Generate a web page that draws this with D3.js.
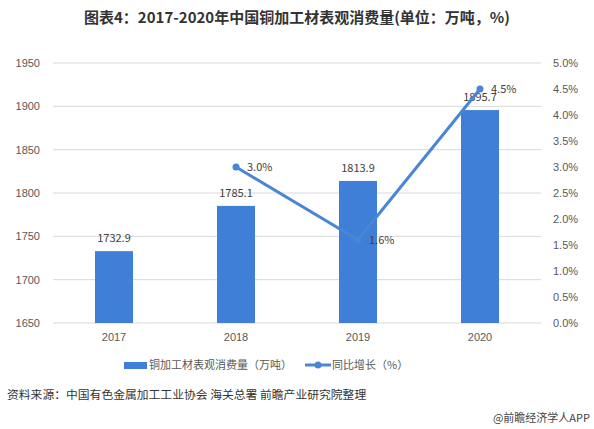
<!DOCTYPE html>
<html>
<head>
<meta charset="utf-8">
<script src="https://cdn.jsdelivr.net/npm/d3@7"></script>
<style>
  body { margin: 0; background: #fff; }
  svg { font-family: "Microsoft YaHei", "Noto Sans CJK SC", sans-serif; }
</style>
</head>
<body>
<svg id="chart" width="594" height="429"></svg>
<script>
// Data
const years = ["2017", "2018", "2019", "2020"];
const consumption = [1732.9, 1785.1, 1813.9, 1895.7];
const growth = [null, 3.0, 1.6, 4.5];
const leftTicks = [1650, 1700, 1750, 1800, 1850, 1900, 1950];
const rightTicks = [0, 0.5, 1, 1.5, 2, 2.5, 3, 3.5, 4, 4.5, 5];

const width = 594, height = 429;
const margin = { top: 63, right: 53, bottom: 106, left: 53 };
const barColor = "#3f7fd8";
const lineColor = "#4a86d6";

const svg = d3.select("#chart");

// Title
svg.append("text")
    .attr("x", width / 2)
    .attr("y", 23)
    .attr("text-anchor", "middle")
    .attr("font-size", 15)
    .attr("font-weight", "bold")
    .attr("fill", "#333")
    .text("图表4：2017-2020年中国铜加工材表观消费量(单位：万吨，%)");

// Scales
const x = d3.scaleBand()
    .domain(years)
    .range([margin.left, width - margin.right]);

const y = d3.scaleLinear()
    .domain([1650, 1950])
    .range([height - margin.bottom, margin.top]);

const y2 = d3.scaleLinear()
    .domain([0, 5])
    .range([height - margin.bottom, margin.top]);

// Grid lines
svg.append("g")
    .selectAll("line")
    .data(leftTicks)
    .join("line")
    .attr("x1", margin.left)
    .attr("x2", width - margin.right)
    .attr("y1", d => y(d))
    .attr("y2", d => y(d))
    .attr("stroke", "#d9d9d9")
    .attr("stroke-width", 1);

// Left axis
const yAxis = svg.append("g")
    .attr("transform", `translate(${margin.left},0)`)
    .call(d3.axisLeft(y).tickValues(leftTicks).tickSize(0).tickPadding(13)
        .tickFormat(d3.format("d")));
yAxis.select(".domain").remove();
yAxis.selectAll("text").attr("font-size", 11).attr("fill", "#595959")
    .style("font-family", "inherit");

// Right axis
const y2Axis = svg.append("g")
    .attr("transform", `translate(${width - margin.right},0)`)
    .call(d3.axisRight(y2).tickValues(rightTicks).tickSize(0).tickPadding(12)
        .tickFormat(d => d.toFixed(1) + "%"));
y2Axis.select(".domain").remove();
y2Axis.selectAll("text").attr("font-size", 11).attr("fill", "#595959")
    .style("font-family", "inherit");

// X axis
const xAxis = svg.append("g")
    .attr("transform", `translate(0,${height - margin.bottom})`)
    .call(d3.axisBottom(x).tickSize(0).tickPadding(10));
xAxis.select(".domain").remove();
xAxis.selectAll("text").attr("font-size", 11).attr("fill", "#595959")
    .style("font-family", "inherit");

// Bars
const barW = 38;
svg.append("g")
    .selectAll("rect")
    .data(years)
    .join("rect")
    .attr("x", (d) => x(d) + x.bandwidth() / 2 - barW / 2)
    .attr("y", (d, i) => y(consumption[i]))
    .attr("width", barW)
    .attr("height", (d, i) => y(1650) - y(consumption[i]))
    .attr("fill", barColor);

// Bar labels
svg.append("g")
    .selectAll("text")
    .data(years)
    .join("text")
    .attr("x", d => x(d) + x.bandwidth() / 2)
    .attr("y", (d, i) => y(consumption[i]) - 9)
    .attr("text-anchor", "middle")
    .attr("font-size", 11)
    .attr("fill", "#404040")
    .text((d, i) => consumption[i].toFixed(1));

// Line
const pts = years.map((d, i) => ({ year: d, v: growth[i] })).filter(d => d.v !== null);
const line = d3.line()
    .x(d => x(d.year) + x.bandwidth() / 2)
    .y(d => y2(d.v));

svg.append("path")
    .datum(pts)
    .attr("d", line)
    .attr("fill", "none")
    .attr("stroke", lineColor)
    .attr("stroke-width", 3);

svg.append("g")
    .selectAll("circle")
    .data(pts)
    .join("circle")
    .attr("cx", d => x(d.year) + x.bandwidth() / 2)
    .attr("cy", d => y2(d.v))
    .attr("r", 3.5)
    .attr("fill", lineColor);

svg.append("g")
    .selectAll("text")
    .data(pts)
    .join("text")
    .attr("x", d => x(d.year) + x.bandwidth() / 2 + 11)
    .attr("y", d => y2(d.v) + 4)
    .attr("font-size", 11)
    .attr("fill", "#404040")
    .text(d => d.v.toFixed(1) + "%");

// Legend
const lg = svg.append("g").attr("transform", "translate(0,365)");
lg.append("rect")
    .attr("x", 124).attr("y", -3).attr("width", 23).attr("height", 7)
    .attr("fill", barColor);
lg.append("text")
    .attr("x", 149).attr("y", 4)
    .attr("font-size", 11).attr("fill", "#595959")
    .text("铜加工材表观消费量（万吨）");
lg.append("line")
    .attr("x1", 305).attr("x2", 331).attr("y1", 0).attr("y2", 0)
    .attr("stroke", lineColor).attr("stroke-width", 3);
lg.append("circle")
    .attr("cx", 318).attr("cy", 0).attr("r", 3.5).attr("fill", lineColor);
lg.append("text")
    .attr("x", 332).attr("y", 4)
    .attr("font-size", 11).attr("fill", "#595959")
    .text("同比增长（%）");

// Source
svg.append("text")
    .attr("x", 7).attr("y", 399)
    .attr("font-size", 11.8).attr("fill", "#333")
    .text("资料来源：中国有色金属加工工业协会 海关总署 前瞻产业研究院整理");

svg.append("text")
    .attr("x", 590).attr("y", 422)
    .attr("text-anchor", "end")
    .attr("font-size", 11).attr("fill", "#444")
    .text("@前瞻经济学人APP");
</script>
</body>
</html>
